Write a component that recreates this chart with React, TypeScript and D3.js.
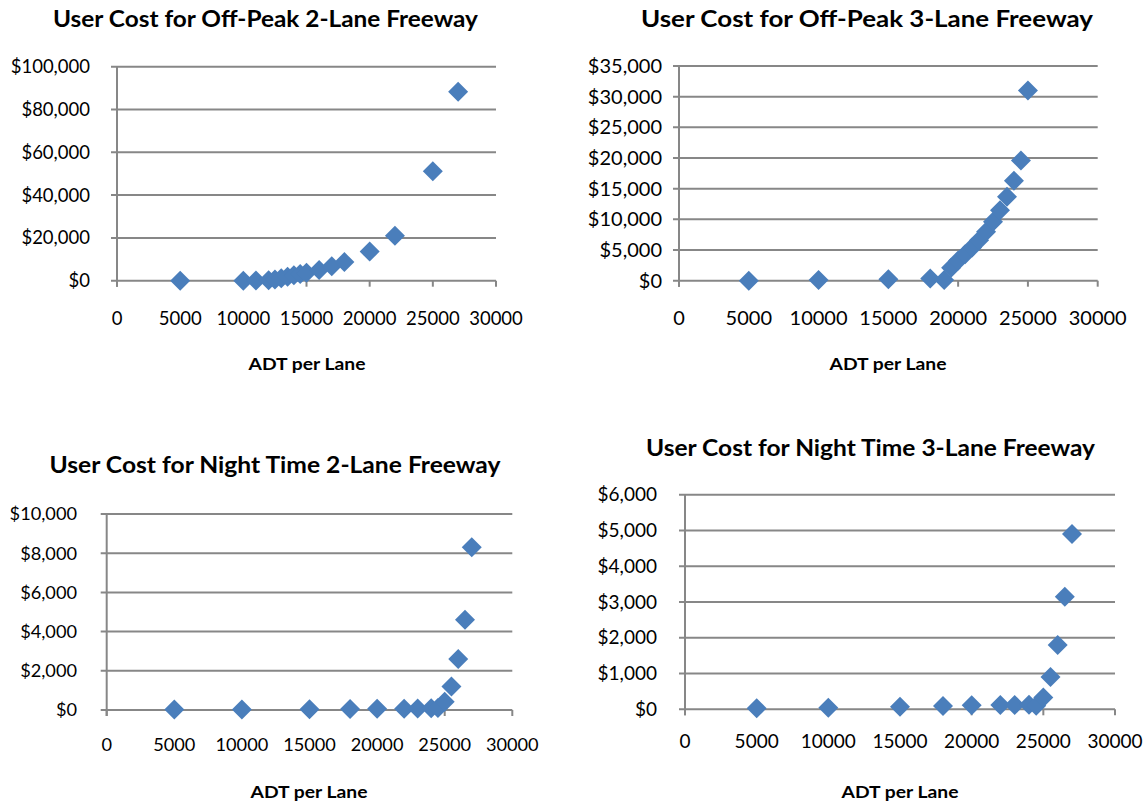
import React from "react";
import * as d3 from "d3";

// ---------- DATA ----------
const offPeak2X = [5000, 10000, 11000, 12000, 12500, 13000, 13500, 14000, 14500, 15000, 16000, 17000, 18000, 20000, 22000, 25000, 27000];
const offPeak2Y = [0, 0, 100, 200, 600, 1100, 1900, 2600, 3100, 3700, 5000, 6700, 8700, 13600, 21000, 51200, 88300];

const offPeak3X = [5000, 10000, 15000, 18000, 19000, 19500, 20000, 20500, 21000, 21500, 22000, 22500, 23000, 23500, 24000, 24500, 25000];
const offPeak3Y = [0, 100, 250, 350, 100, 2100, 3300, 4300, 5400, 6600, 8000, 9600, 11500, 13700, 16300, 19600, 31000];

const night2X = [5000, 10000, 15000, 18000, 20000, 22000, 23000, 24000, 24500, 25000, 25500, 26000, 26500, 27000];
const night2Y = [20, 30, 40, 50, 60, 70, 80, 90, 100, 420, 1200, 2600, 4600, 8300];

const night3X = [5000, 10000, 15000, 18000, 20000, 22000, 23000, 24000, 24500, 25000, 25500, 26000, 26500, 27000];
const night3Y = [30, 40, 70, 90, 110, 120, 120, 130, 100, 330, 900, 1800, 3150, 4900];

const xTicks = [0, 5000, 10000, 15000, 20000, 25000, 30000];
const offPeak2Ticks = [0, 20000, 40000, 60000, 80000, 100000];
const offPeak3Ticks = [0, 5000, 10000, 15000, 20000, 25000, 30000, 35000];
const night2Ticks = [0, 2000, 4000, 6000, 8000, 10000];
const night3Ticks = [0, 1000, 2000, 3000, 4000, 5000, 6000];

const titles = [
  "User Cost for Off-Peak 2-Lane Freeway",
  "User Cost for Off-Peak 3-Lane Freeway",
  "User Cost for Night Time 2-Lane Freeway",
  "User Cost for Night Time 3-Lane Freeway",
];
const xAxisTitle = "ADT per Lane";

// ---------- LAYOUT ----------
type Layout = {
  left: number; right: number; top: number; bottom: number;
  titleX: number; titleY: number; titleW: number; tickFont: number;
  yLabelRight: number; xLabelY: number; axisTitleX: number; axisTitleY: number;
};

const layouts: Layout[] = [
  { left: 117, right: 496, top: 66.7, bottom: 280.7, titleX: 265.5, titleY: 27, titleW: 425, tickFont: 18.5, yLabelRight: 90, xLabelY: 325, axisTitleX: 307, axisTitleY: 370 },
  { left: 679, right: 1097.7, top: 66, bottom: 280.7, titleX: 867, titleY: 27, titleW: 452, tickFont: 20, yLabelRight: 662, xLabelY: 325, axisTitleX: 888, axisTitleY: 370 },
  { left: 106.7, right: 512.3, top: 514, bottom: 710, titleX: 275, titleY: 473, titleW: 451, tickFont: 18.2, yLabelRight: 77, xLabelY: 751, axisTitleX: 309, axisTitleY: 798 },
  { left: 685, right: 1115, top: 494.7, bottom: 709.3, titleX: 870.5, titleY: 456, titleW: 449, tickFont: 19, yLabelRight: 657, xLabelY: 748, axisTitleX: 900, axisTitleY: 798 },
];

const FONT = "Lato, 'Open Sans', sans-serif";
const GRID = "#878787";
const MARK = "#4a7ebb";

const fmt = (v: number) => "$" + d3.format(",")(v);

function Chart({ xs, ys, yTicks, title, L }: { xs: number[]; ys: number[]; yTicks: number[]; title: string; L: Layout }) {
  const x = d3.scaleLinear().domain([0, 30000]).range([L.left, L.right]);
  const y = d3.scaleLinear().domain([0, yTicks[yTicks.length - 1]]).range([L.bottom, L.top]);
  const diamond = d3.symbol().type(d3.symbolSquare).size(200)() as string;
  return (
    <g>
      <text x={L.titleX} y={L.titleY} textAnchor="middle" fontFamily={FONT} fontWeight={700} fontSize={22}
        textLength={L.titleW} lengthAdjust="spacingAndGlyphs" fill="#000">{title}</text>
      {yTicks.map((t) => (
        <g key={"y" + t}>
          <line x1={L.left - 6} x2={L.right} y1={y(t)} y2={y(t)} stroke={GRID} strokeWidth={2} />
          <text x={L.yLabelRight} y={y(t)} dy="0.35em" textAnchor="end" fontFamily={FONT} fontSize={L.tickFont} fill="#000">{fmt(t)}</text>
        </g>
      ))}
      <line x1={L.left} x2={L.left} y1={L.top} y2={L.bottom + 6} stroke={GRID} strokeWidth={2} />
      {xTicks.map((t) => (
        <g key={"x" + t}>
          <line x1={x(t)} x2={x(t)} y1={L.bottom} y2={L.bottom + 6} stroke={GRID} strokeWidth={2} />
          <text x={x(t)} y={L.xLabelY} textAnchor="middle" fontFamily={FONT} fontSize={L.tickFont} fill="#000">{t}</text>
        </g>
      ))}
      <text x={L.axisTitleX} y={L.axisTitleY} textAnchor="middle" fontFamily={FONT} fontWeight={700} fontSize={17.5}
        textLength={117} lengthAdjust="spacingAndGlyphs" fill="#000">{xAxisTitle}</text>
      {xs.map((v, i) => (
        <path key={"p" + i} d={diamond} transform={`translate(${x(v)},${y(ys[i])}) rotate(45)`} fill={MARK} />
      ))}
    </g>
  );
}

export default function App() {
  return (
    <svg width={1148} height={804} style={{ position: "absolute", left: 0, top: 0, background: "#fff" }}>
      <rect width={1148} height={804} fill="#fff" />
      <Chart xs={offPeak2X} ys={offPeak2Y} yTicks={offPeak2Ticks} title={titles[0]} L={layouts[0]} />
      <Chart xs={offPeak3X} ys={offPeak3Y} yTicks={offPeak3Ticks} title={titles[1]} L={layouts[1]} />
      <Chart xs={night2X} ys={night2Y} yTicks={night2Ticks} title={titles[2]} L={layouts[2]} />
      <Chart xs={night3X} ys={night3Y} yTicks={night3Ticks} title={titles[3]} L={layouts[3]} />
    </svg>
  );
}
